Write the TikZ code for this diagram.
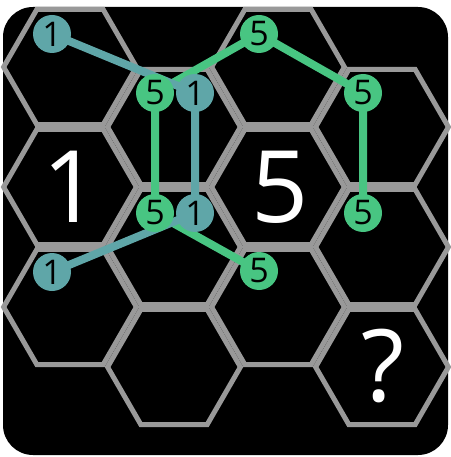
\documentclass[tikz,border=0pt]{standalone}
\usepackage{fontspec}
\setmainfont{Open Sans}
\definecolor{hexgray}{RGB}{153,153,153}
\definecolor{tealc}{RGB}{95,166,168}
\definecolor{greenc}{RGB}{72,197,130}
\begin{document}
\begin{tikzpicture}[x=1pt,y=-1pt,
  hexline/.style={draw=hexgray,line width=5pt,line join=miter},
  bigtxt/.style={text=white,inner sep=0pt,font=\fontsize{100}{100}\selectfont},
  dotbase/.style={circle,minimum size=38pt,inner sep=0pt,text=black,font=\fontsize{34}{34}\selectfont},
  tdot/.style={dotbase,fill=tealc},
  gdot/.style={dotbase,fill=greenc},
  tlink/.style={draw=tealc,line width=8pt},
  glink/.style={draw=greenc,line width=8pt}]
\useasboundingbox (0,0) rectangle (450,457);
\fill[black,rounded corners=30pt] (3,7) rectangle (448,455);
\foreach \cx/\cy in {70/67,70/187,70/307,174/127,174/247,174/367,278/67,278/187,278/307,382/127,382/247,382/367}{
  \draw[hexline] (\cx,\cy) +(0:66.4) -- +(60:66.4) -- +(120:66.4) -- +(180:66.4) -- +(240:66.4) -- +(300:66.4) -- cycle;
}
\node[bigtxt] (big1) at (71,187) {1};
\node[bigtxt] (big5) at (280,187) {5};
\node[bigtxt] (bigq) at (383,366) {?};
% coordinates of dots
\coordinate (pA) at (52,34);
\coordinate (pB) at (155,93);
\coordinate (pC) at (195,93);
\coordinate (pD) at (259,34);
\coordinate (pE) at (363,93);
\coordinate (pF) at (155,213);
\coordinate (pG) at (195,213);
\coordinate (pH) at (52,272);
\coordinate (pI) at (259,271);
\coordinate (pJ) at (363,213);
% links
\draw[glink] (pB) -- (pD) -- (pE) -- (pJ);
\draw[glink] (pB) -- (pF) -- (pI);
\draw[tlink] (pA) -- (pC) -- (pG) -- (pH);
% dots
\node[gdot] (B) at (pB) {5};
\node[gdot] (D) at (pD) {5};
\node[gdot] (E) at (pE) {5};
\node[gdot] (F) at (pF) {5};
\node[gdot] (I) at (pI) {5};
\node[gdot] (J) at (pJ) {5};
\node[tdot] (A) at (pA) {1};
\node[tdot] (C) at (pC) {1};
\node[tdot] (G) at (pG) {1};
\node[tdot] (H) at (pH) {1};
\end{tikzpicture}
\end{document}
